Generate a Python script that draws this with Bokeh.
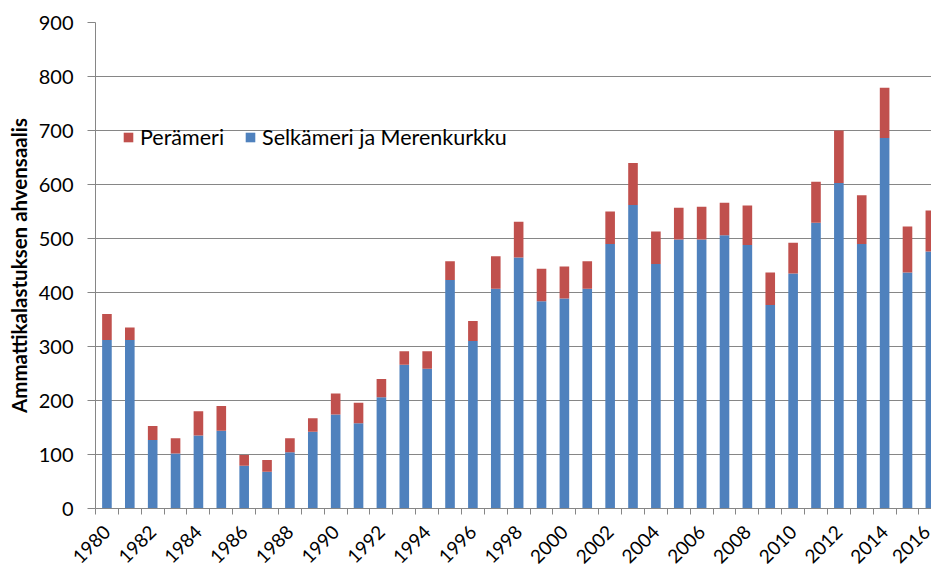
import math
from bokeh.plotting import figure
from bokeh.models import ColumnDataSource, Range1d, FixedTicker, Legend, LegendItem
from bokeh.embed import file_html
from bokeh.resources import INLINE

years = list(range(1980, 2017))
selkameri = [312, 312, 127, 102, 135, 144, 79, 68, 104, 142,
             174, 158, 206, 266, 259, 423, 310, 407, 465, 384,
             389, 407, 490, 562, 453, 498, 498, 506, 488, 377,
             435, 529, 603, 490, 686, 437, 476]
perameri_total = [360, 335, 153, 130, 180, 190, 99, 90, 130, 167,
                  213, 196, 240, 291, 291, 458, 347, 467, 531, 444,
                  448, 458, 550, 640, 513, 557, 559, 566, 561, 437,
                  492, 605, 700, 580, 779, 522, 552]
perameri = [t - s for t, s in zip(perameri_total, selkameri)]

x_tick_years = list(range(1980, 2017, 2))
y_ticks = list(range(0, 901, 100))

BLUE = "#4F81BD"
RED = "#C0504D"
GRAY = "#868686"
FONT = "Lato"

source = ColumnDataSource(data=dict(year=years, sel=selkameri, per=perameri))

p = figure(width=931, height=572, output_backend="svg", toolbar_location=None,
           x_range=Range1d(1979.5, 2016.05), y_range=Range1d(0, 900),
           min_border_left=95, min_border_right=0, min_border_top=22,
           min_border_bottom=63)
p.outline_line_color = None
p.background_fill_color = "white"
p.border_fill_color = "white"

rs = p.vbar_stack(["sel", "per"], x="year", width=0.42, color=[BLUE, RED],
                  line_color=None, source=source)

legend = Legend(items=[LegendItem(label="Perämeri", renderers=[rs[1]]),
                       LegendItem(label="Selkämeri ja Merenkurkku", renderers=[rs[0]])],
                orientation="horizontal", location=(27, 358))
legend.background_fill_alpha = 0
legend.border_line_color = None
legend.padding = 0
legend.margin = 0
legend.spacing = 20
legend.glyph_width = 12
legend.glyph_height = 12
legend.label_standoff = 6
legend.label_text_font = FONT
legend.label_text_font_size = "21.5px"
legend.label_text_color = "#000000"
p.add_layout(legend, "center")

# x axis
p.xgrid.grid_line_color = None
p.xaxis.ticker = FixedTicker(ticks=x_tick_years,
                             minor_ticks=[y - 0.5 for y in years] + [2016.5])
p.xaxis.major_tick_out = 0
p.xaxis.major_tick_in = 0
p.xaxis.minor_tick_out = 6
p.xaxis.minor_tick_in = 0
p.xaxis.minor_tick_line_color = GRAY
p.xaxis.axis_line_color = GRAY
p.xaxis.major_label_orientation = math.pi / 4
p.xaxis.major_label_text_font = FONT
p.xaxis.major_label_text_font_size = "19px"
p.xaxis.major_label_text_color = "#000000"
p.xaxis.major_label_standoff = 14

# y axis
p.yaxis.ticker = FixedTicker(ticks=y_ticks)
p.yaxis.minor_tick_line_color = None
p.yaxis.major_tick_out = 8
p.yaxis.major_tick_in = 0
p.yaxis.major_tick_line_color = GRAY
p.yaxis.axis_line_color = GRAY
p.yaxis.major_label_text_font = FONT
p.yaxis.major_label_text_font_size = "20px"
p.yaxis.major_label_text_color = "#000000"
p.yaxis.major_label_standoff = 14
p.yaxis.axis_label = "Ammattikalastuksen ahvensaalis"
p.yaxis.axis_label_text_font = FONT
p.yaxis.axis_label_text_font_size = "20.5px"
p.yaxis.axis_label_text_font_style = "bold"
p.yaxis.axis_label_text_color = "#000000"
p.yaxis.axis_label_standoff = 5

p.ygrid.grid_line_color = GRAY
p.ygrid.grid_line_width = 1
p.ygrid.ticker = FixedTicker(ticks=y_ticks)

open("out.html", "w").write(file_html(p, INLINE))
